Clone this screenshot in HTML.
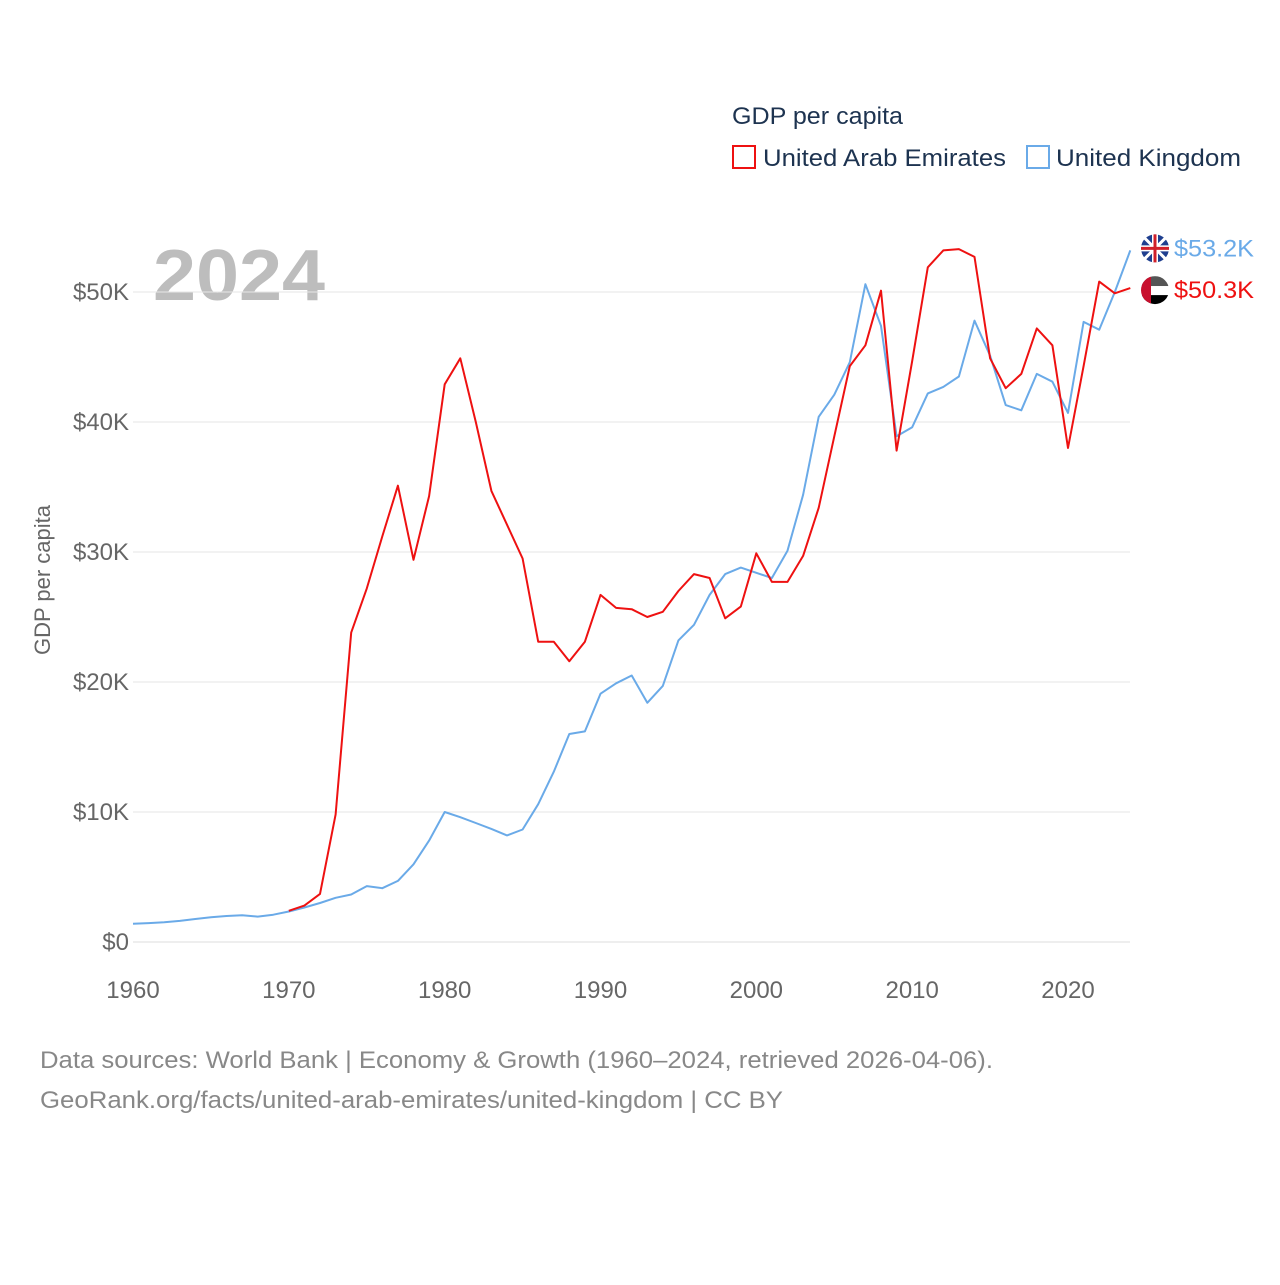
<!DOCTYPE html>
<html><head><meta charset="utf-8"><style>
html,body{margin:0;padding:0;background:#fff;}
body{width:1280px;height:1280px;overflow:hidden;font-family:"Liberation Sans",sans-serif;}
svg text{font-family:"Liberation Sans",sans-serif;}
</style></head><body>
<svg id="chart" width="1280" height="1280" xmlns="http://www.w3.org/2000/svg">
<text x="732" y="124" font-size="24" fill="#1d3350" textLength="171" lengthAdjust="spacingAndGlyphs">GDP per capita</text>
<rect x="733" y="146" width="22" height="22" fill="none" stroke="#ee1111" stroke-width="2"/>
<text x="763" y="166" font-size="24" fill="#1d3350" textLength="243" lengthAdjust="spacingAndGlyphs">United Arab Emirates</text>
<rect x="1027" y="146" width="22" height="22" fill="none" stroke="#6aaae8" stroke-width="2"/>
<text x="1056" y="166" font-size="24" fill="#1d3350" textLength="185" lengthAdjust="spacingAndGlyphs">United Kingdom</text>
<text x="153" y="300" font-size="72" font-weight="bold" fill="#bdbdbd" textLength="172" lengthAdjust="spacingAndGlyphs">2024</text>
<text transform="translate(50,580) rotate(-90)" text-anchor="middle" font-size="22" fill="#666">GDP per capita</text>
<g id="grid"></g><g id="xt"></g><g id="lines"></g><g id="ends"></g>
<text x="40" y="1068" font-size="24" fill="#888" textLength="953" lengthAdjust="spacingAndGlyphs">Data sources: World Bank | Economy &amp; Growth (1960–2024, retrieved 2026-04-06).</text>
<text x="40" y="1108" font-size="24" fill="#888" textLength="743" lengthAdjust="spacingAndGlyphs">GeoRank.org/facts/united-arab-emirates/united-kingdom | CC BY</text>
</svg>
<script>
const yTicks=[0,10,20,30,40,50];
const xTicks=[1960,1970,1980,1990,2000,2010,2020];
const ukStart=1960;
const ukValues=[1.4,1.45,1.52,1.62,1.77,1.9,2.0,2.06,1.95,2.1,2.35,2.65,3.0,3.4,3.65,4.3,4.14,4.7,5.98,7.8,10.0,9.6,9.15,8.7,8.2,8.65,10.6,13.1,16.0,16.2,19.1,19.9,20.5,18.4,19.7,23.2,24.4,26.7,28.3,28.8,28.4,28.0,30.1,34.4,40.4,42.1,44.6,50.6,47.4,38.9,39.6,42.2,42.7,43.5,47.8,45.1,41.3,40.9,43.7,43.1,40.7,47.7,47.1,50.0,53.2];
const uaeStart=1970;
const uaeValues=[2.4,2.8,3.7,9.8,23.8,27.2,31.2,35.1,29.4,34.3,42.9,44.9,40.0,34.7,32.1,29.5,23.1,23.1,21.6,23.1,26.7,25.7,25.6,25.0,25.4,27.0,28.3,28.0,24.9,25.8,29.9,27.7,27.7,29.7,33.4,38.9,44.3,45.9,50.1,37.8,44.7,51.9,53.2,53.3,52.7,44.9,42.6,43.7,47.2,45.9,38.0,44.3,50.8,49.9,50.3];
const NS="http://www.w3.org/2000/svg";
const X=yr=>133+(yr-1960)*(935/60);
const Y=v=>942-v*13;
function mk(t,a,p){const e=document.createElementNS(NS,t);for(const k in a)e.setAttribute(k,a[k]);p.appendChild(e);return e;}
const g=document.getElementById('grid');
yTicks.forEach(v=>{
 const l=mk('line',{x1:133,x2:1130,y1:Y(v),y2:Y(v),stroke:v===0?'#ddd':'#e6e6e6','stroke-width':1},g);
 
 
 const t=mk('text',{x:129,y:Y(v)+8,'text-anchor':'end','font-size':24,fill:'#666'},g);
 
 
 t.textContent=v===0?'$0':'$'+v+'K';
});
const xt=document.getElementById('xt');
xTicks.forEach(yr=>{
 const t=mk('text',{x:X(yr),y:998,'text-anchor':'middle','font-size':24,fill:'#666'},xt);
 
 
 t.textContent=yr;
});
const L=document.getElementById('lines');
function line(vals,start,col,name){
 const d=vals.map((v,i)=>(i?'L':'M')+X(start+i).toFixed(1)+' '+Y(v).toFixed(1)).join(' ');
 const p=mk('path',{d:d,fill:'none',stroke:col,'stroke-width':2,'stroke-linejoin':'round'},L);
 
 
}
line(ukValues,ukStart,'#6aaae8','uk-line');
line(uaeValues,uaeStart,'#ee1111','uae-line');
const E=document.getElementById('ends');
const ukLast=ukValues[ukValues.length-1], uaeLast=uaeValues[uaeValues.length-1];
const fx=1155;
const c1=mk('circle',{cx:fx,cy:Y(ukLast)-2,r:14,fill:'#1f3f8f'},E);


mk('path',{d:`M${fx-12} ${Y(ukLast)-14}L${fx+12} ${Y(ukLast)+10}M${fx+12} ${Y(ukLast)-14}L${fx-12} ${Y(ukLast)+10}`,stroke:'#fff','stroke-width':3},E);
mk('path',{d:`M${fx-14} ${Y(ukLast)-2}H${fx+14}M${fx} ${Y(ukLast)-16}V${Y(ukLast)+12}`,stroke:'#fff','stroke-width':6},E);
mk('path',{d:`M${fx-14} ${Y(ukLast)-2}H${fx+14}M${fx} ${Y(ukLast)-16}V${Y(ukLast)+12}`,stroke:'#d0202a','stroke-width':3},E);
const t1=mk('text',{x:1174,y:Y(ukLast)+6,'font-size':24,fill:'#6aaae8',textLength:80,lengthAdjust:'spacingAndGlyphs'},E);


t1.textContent='$'+ukLast.toFixed(1)+'K';
const cy=Y(uaeLast)+2;
mk('clipPath',{id:'cc'},E);
const cp=document.getElementById('cc');mk('circle',{cx:fx,cy:cy,r:14},cp);
const fg=mk('g',{'clip-path':'url(#cc)'},E);


mk('rect',{x:fx-14,y:cy-14,width:28,height:10,fill:'#555'},fg);
mk('rect',{x:fx-14,y:cy-4,width:28,height:9,fill:'#fff'},fg);
mk('rect',{x:fx-14,y:cy+5,width:28,height:10,fill:'#000'},fg);
mk('rect',{x:fx-14,y:cy-14,width:10,height:28,fill:'#c8102e'},fg);
const t2=mk('text',{x:1174,y:Y(uaeLast)+10,'font-size':24,fill:'#ee1111',textLength:80,lengthAdjust:'spacingAndGlyphs'},E);


t2.textContent='$'+uaeLast.toFixed(1)+'K';
</script>
</body></html>
